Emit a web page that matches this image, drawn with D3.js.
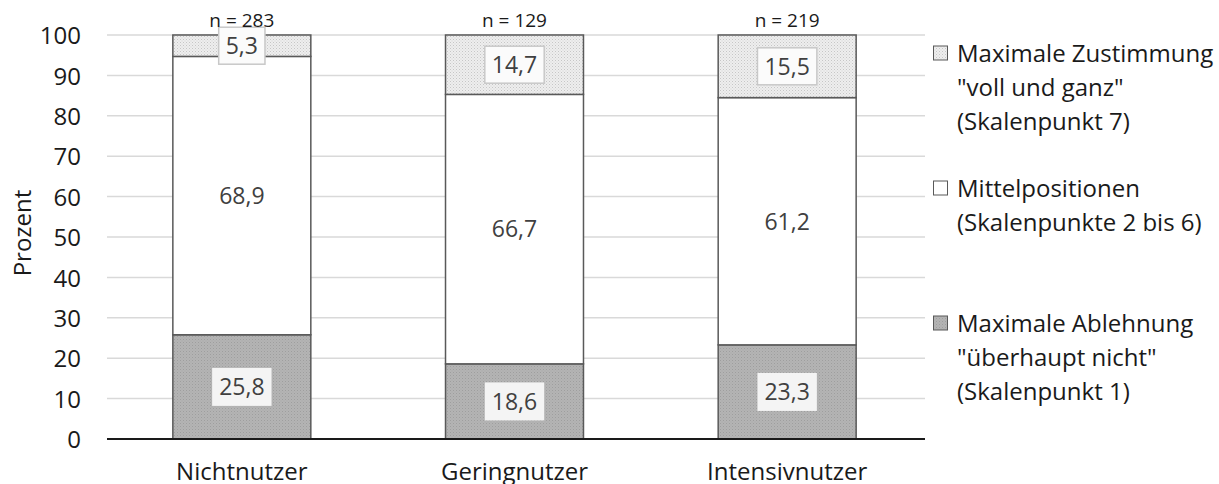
<!DOCTYPE html>
<html><head><meta charset="utf-8">
<script src="https://cdn.jsdelivr.net/npm/d3@7/dist/d3.min.js"></script>
<style>body{margin:0;background:#fff}svg{display:block}text{font-family:"Open Sans",sans-serif}</style>
</head><body>
<svg id="c" width="1219" height="484"></svg>
<script>
const categories = ["Nichtnutzer", "Geringnutzer", "Intensivnutzer"];
const nLabels = ["n = 283", "n = 129", "n = 219"];
const ablehnung = [25.8, 18.6, 23.3];
const mittel = [68.9, 66.7, 61.2];
const zustimmung = [5.3, 14.7, 15.5];
const yTicks = [0,10,20,30,40,50,60,70,80,90,100];
const seriesNames = ["ablehnung","mittel","zustimmung"];
const legendLines = [
  ["Maximale Zustimmung", "\"voll und ganz\"", "(Skalenpunkt 7)"],
  ["Mittelpositionen", "(Skalenpunkte 2 bis 6)"],
  ["Maximale Ablehnung", "\"überhaupt nicht\"", "(Skalenpunkt 1)"]
];

const svg = d3.select("#c");
const defs = svg.append("defs");
const p1 = defs.append("pattern").attr("id","pTop").attr("width",3).attr("height",3).attr("patternUnits","userSpaceOnUse");
p1.append("rect").attr("width",3).attr("height",3).attr("fill","#eeeeee");
p1.append("rect").attr("width",1).attr("height",1).attr("fill","#c6c6c6");
p1.append("rect").attr("x",1.5).attr("y",1.5).attr("width",1).attr("height",1).attr("fill","#d2d2d2");
const p2 = defs.append("pattern").attr("id","pBot").attr("width",3).attr("height",3).attr("patternUnits","userSpaceOnUse");
p2.append("rect").attr("width",3).attr("height",3).attr("fill","#b4b4b4");
p2.append("rect").attr("width",1).attr("height",1).attr("fill","#9e9e9e");
p2.append("rect").attr("x",1.5).attr("y",1.5).attr("width",1).attr("height",1).attr("fill","#a8a8a8");

const fills = {ablehnung:"url(#pBot)", mittel:"#ffffff", zustimmung:"url(#pTop)"};

const x = d3.scaleBand().domain(categories).range([105.5, 923.5]).paddingInner(0.494).paddingOuter(0.247);
const y = d3.scaleLinear().domain([0,100]).range([439, 35]);

// grid
svg.append("g").selectAll("line").data(yTicks.filter(d=>d>0)).join("line")
  .attr("x1",107).attr("x2",925).attr("y1",d=>y(d)).attr("y2",d=>y(d))
  .attr("stroke","#d9d9d9").attr("stroke-width",1.5);

// y axis labels
const yAxis = d3.axisLeft(y).tickValues(yTicks).tickSize(0).tickPadding(0);
const ya = svg.append("g").attr("transform","translate(81,0)").call(yAxis);
ya.select(".domain").remove();
ya.selectAll("text").attr("font-size",24).attr("fill","#1a1a1a").attr("dy","0.36em").attr("font-family","'Open Sans',sans-serif");

svg.append("text").attr("transform","translate(22,233) rotate(-90)").attr("text-anchor","middle")
  .attr("dy","0.36em").attr("font-size",24).attr("fill","#1a1a1a").text("Prozent");

const data = categories.map((c,i)=>({cat:c, ablehnung:ablehnung[i], mittel:mittel[i], zustimmung:zustimmung[i]}));
const stack = d3.stack().keys(seriesNames)(data);

const g = svg.append("g");
stack.forEach(s=>{
  g.selectAll(null).data(s).join("rect")
    .attr("x",d=>x(d.data.cat)).attr("width",x.bandwidth())
    .attr("y",d=>y(d[1])).attr("height",d=>y(d[0])-y(d[1]))
    .attr("fill",fills[s.key]).attr("stroke","#595959").attr("stroke-width",1.5);
});

// x axis line
svg.append("line").attr("x1",107).attr("x2",925).attr("y1",y(0)).attr("y2",y(0)).attr("stroke","#1a1a1a").attr("stroke-width",2);

// n labels
svg.append("g").selectAll("text").data(categories).join("text")
  .attr("x",d=>x(d)+x.bandwidth()/2).attr("y",20).attr("dy","0.36em").attr("text-anchor","middle")
  .attr("font-size",19).attr("fill","#1a1a1a").text((d,i)=>nLabels[i]);

// value labels
const fmt = v => String(v).replace(".",",");
stack.forEach(s=>{
  s.forEach(d=>{
    const cx = x(d.data.cat)+x.bandwidth()/2;
    const cy = (y(d[0])+y(d[1]))/2;
    const t = fmt(d.data[s.key]);
    const box = g.append("rect");
    const txt = g.append("text").attr("x",cx).attr("y",cy).attr("dy","0.36em").attr("text-anchor","middle")
      .attr("font-size",23).attr("fill","#404040").text(t);
    const tw = txt.node().getComputedTextLength() + 14;
    if (s.key==="zustimmung"){
      box.attr("x",cx-tw/2).attr("y",cy-18.5).attr("width",tw).attr("height",37)
        .attr("fill","#fbfbfb").attr("stroke","#c8c8c8").attr("stroke-width",1.5);
    } else if (s.key==="ablehnung"){
      box.attr("x",cx-tw/2).attr("y",cy-19).attr("width",tw).attr("height",38)
        .attr("fill","#f4f4f4");
    } else box.remove();
    box.lower(); 
  });
});
// keep boxes above bars: re-raise text elements
g.selectAll("rect").filter(function(){return !this.getAttribute("stroke") || this.getAttribute("stroke")==="#c8c8c8";}).raise();
g.selectAll("text").raise();

// category labels
svg.append("g").selectAll("text").data(categories).join("text")
  .attr("x",d=>x(d)+x.bandwidth()/2).attr("y",471).attr("dy","0.36em").attr("text-anchor","middle")
  .attr("font-size",24).attr("fill","#1a1a1a").text(d=>d);

// legend
const legY = [53, 188, 323];
const legFill = ["url(#pTop)", "#ffffff", "url(#pBot)"];
legendLines.forEach((lines,i)=>{
  const lg = svg.append("g");
  lg.append("rect").attr("x",933.5).attr("y",legY[i]-7).attr("width",14).attr("height",14)
    .attr("fill",legFill[i]).attr("stroke","#595959").attr("stroke-width",1);
  lines.forEach((l,j)=>{
    lg.append("text").attr("x",957).attr("y",legY[i]+j*34).attr("dy","0.36em")
      .attr("font-size",24).attr("fill","#1a1a1a").text(l);
  });
});
</script>
</body></html>
